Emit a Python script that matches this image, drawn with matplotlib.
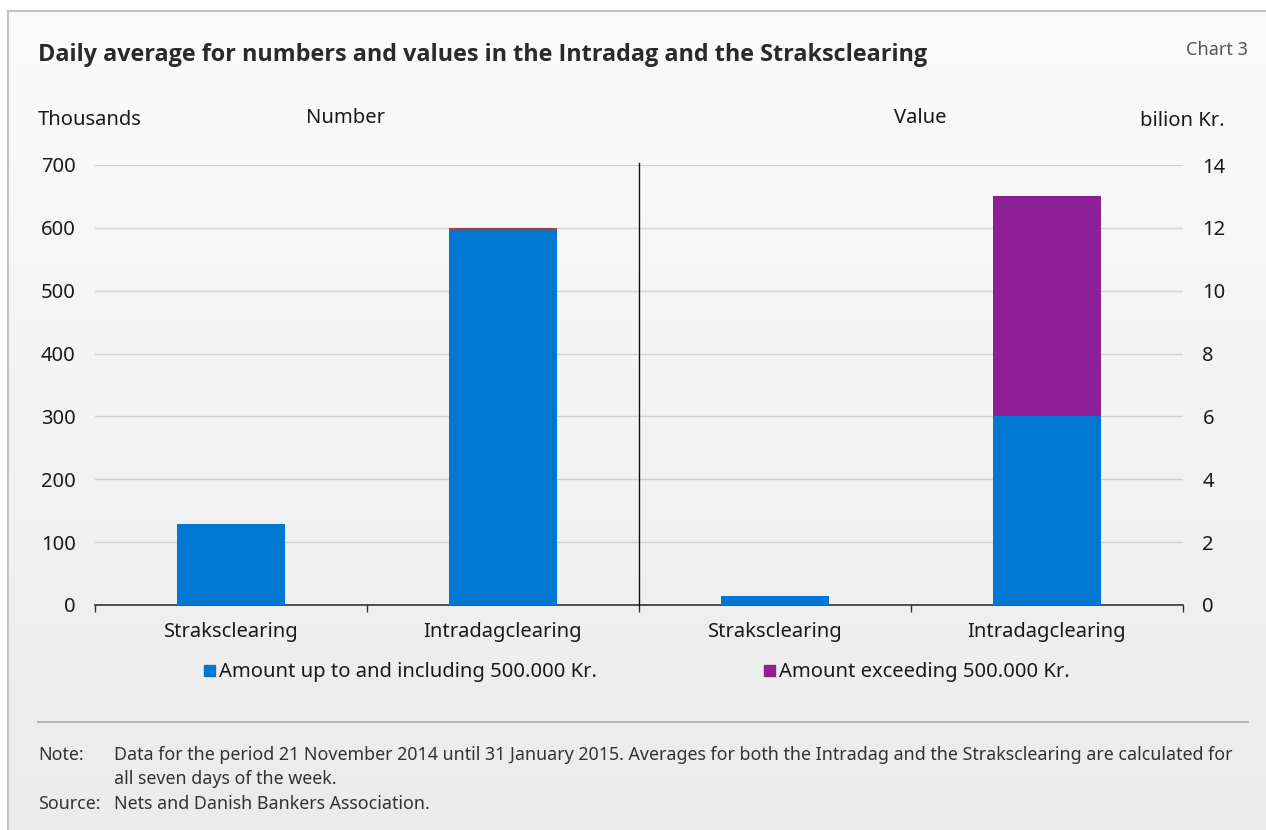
import numpy as np
import matplotlib
matplotlib.use("Agg")
import matplotlib.pyplot as plt
from matplotlib.patches import Rectangle
from matplotlib.lines import Line2D
from matplotlib.colors import LinearSegmentedColormap

plt.rcParams['font.family'] = ['Noto Sans', 'DejaVu Sans']

# Data
categories = ["Straksclearing", "Intradagclearing", "Straksclearing", "Intradagclearing"]
number_small = [129, 597]      # thousands, amounts up to 500.000 Kr.
number_large = [0, 3]          # thousands, amounts above 500.000 Kr.
value_small = [0.3, 6.0]       # billion Kr., amounts up to 500.000 Kr.
value_large = [0.0, 7.0]       # billion Kr., amounts above 500.000 Kr.
left_ticks = [0, 100, 200, 300, 400, 500, 600, 700]
right_ticks = [0, 2, 4, 6, 8, 10, 12, 14]

BLUE = "#0078d2"
PURPLE = "#8e1f96"
RED = "#c0391f"
TXT = "#1a1a1a"
FS = 14.5

W, H = 1266, 830
fig = plt.figure(figsize=(W / 100, H / 100), dpi=100)


def fx(px):
    return px / W


def fy(py):
    return 1 - py / H


# Background panel with a soft vertical gradient and a thin frame
bg = fig.add_axes([0, 0, 1, 1], zorder=-10)
grad = np.linspace(0, 1, 256).reshape(-1, 1)
cmap = LinearSegmentedColormap.from_list("bg", ["#fbfbfb", "#ebebeb"])
bg.imshow(grad, cmap=cmap, aspect="auto", extent=[fx(8), 1.2, 0, fy(11)], origin="upper")
bg.set_xlim(0, 1)
bg.set_ylim(0, 1)
bg.add_line(Line2D([fx(8), fx(8)], [0, fy(11)], color="#c4c4c4", lw=1.5))
bg.add_line(Line2D([fx(8), 1], [fy(11), fy(11)], color="#c4c4c4", lw=1.5))
bg.axis("off")

ax = fig.add_axes([fx(95), fy(605), fx(1183) - fx(95), fy(165) - fy(605)])
ax.patch.set_alpha(0)
ax2 = ax.twinx()

pos = np.arange(len(categories))
bw = 0.4

# Number panel (left axis)
ax.bar(pos[:2], number_small, bw, color=BLUE, zorder=3)
ax.bar(pos[:2], number_large, bw, bottom=number_small, color=RED, zorder=3)
# Value panel (right axis)
ax2.bar(pos[2:], value_small, bw, color=BLUE, zorder=3)
ax2.bar(pos[2:], value_large, bw, bottom=value_small, color=PURPLE, zorder=3)

ax.set_xlim(-0.5, 3.5)
ax.set_ylim(0, 700)
ax2.set_ylim(0, 14)
ax.set_yticks(left_ticks)
ax2.set_yticks(right_ticks)
ax.grid(axis="y", color="#d2d2d2", lw=1, zorder=0)
ax.set_axisbelow(True)

for a in (ax, ax2):
    for s in a.spines.values():
        s.set_visible(False)
ax.spines["bottom"].set_visible(True)
ax.spines["bottom"].set_color("#333333")
ax.spines["bottom"].set_linewidth(1.2)

ax.tick_params(axis="y", length=0, pad=14, labelsize=FS, labelcolor=TXT)
ax2.tick_params(axis="y", length=0, pad=14, labelsize=FS, labelcolor=TXT)
ax.set_xticks(pos)
ax.set_xticklabels(categories)
ax.tick_params(axis="x", which="major", length=0, pad=12, labelsize=FS, labelcolor=TXT)
ax.set_xticks([-0.5, 0.5, 1.5, 2.5, 3.5], minor=True)
ax.tick_params(axis="x", which="minor", length=5, width=1, color="#333333", direction="out")

# Divider between the two panels
ax.plot([1.5, 1.5], [0, 703], color="#111111", lw=1, zorder=4, clip_on=False)

# Texts
fig.text(fx(38), fy(55), "Daily average for numbers and values in the Intradag and the Straksclearing",
         fontsize=16.8, fontweight="bold", family=["Open Sans", "DejaVu Sans"],
         color="#2a2a2a", va="center", ha="left")
fig.text(fx(1248), fy(50), "Chart 3", fontsize=13, color="#555555", va="center", ha="right")
fig.text(fx(38), fy(120), "Thousands", fontsize=FS, color=TXT, va="center", ha="left")
fig.text(fx(346), fy(118), "Number", fontsize=FS, color=TXT, va="center", ha="center")
fig.text(fx(920), fy(118), "Value", fontsize=FS, color=TXT, va="center", ha="center")
fig.text(fx(1225), fy(121), "bilion Kr.", fontsize=FS, color=TXT, va="center", ha="right")

# Legend
for sx, col, label in [(204, BLUE, "Amount up to and including 500.000 Kr."),
                       (764, PURPLE, "Amount exceeding 500.000 Kr.")]:
    fig.patches.append(Rectangle((fx(sx), fy(676)), 11 / W, 11 / H, transform=fig.transFigure,
                                 color=col, figure=fig))
    fig.text(fx(sx + 15), fy(672), label, fontsize=FS, color=TXT, va="center", ha="left")

# Footer
fig.add_artist(Line2D([fx(38), fx(1248)], [fy(722), fy(722)], color="#a8a8a8", lw=1.2,
                      transform=fig.transFigure))
fs = 12.85
fig.text(fx(38), fy(755), "Note:", fontsize=fs, color="#333333", va="center")
fig.text(fx(114), fy(755), "Data for the period 21 November 2014 until 31 January 2015. Averages for both the Intradag and the Straksclearing are calculated for",
         fontsize=fs, color="#333333", va="center")
fig.text(fx(114), fy(779), "all seven days of the week.", fontsize=fs, color="#333333", va="center")
fig.text(fx(38), fy(804), "Source:", fontsize=fs, color="#333333", va="center")
fig.text(fx(114), fy(804), "Nets and Danish Bankers Association.", fontsize=fs, color="#333333", va="center")

fig.savefig("out.png", dpi=100)
